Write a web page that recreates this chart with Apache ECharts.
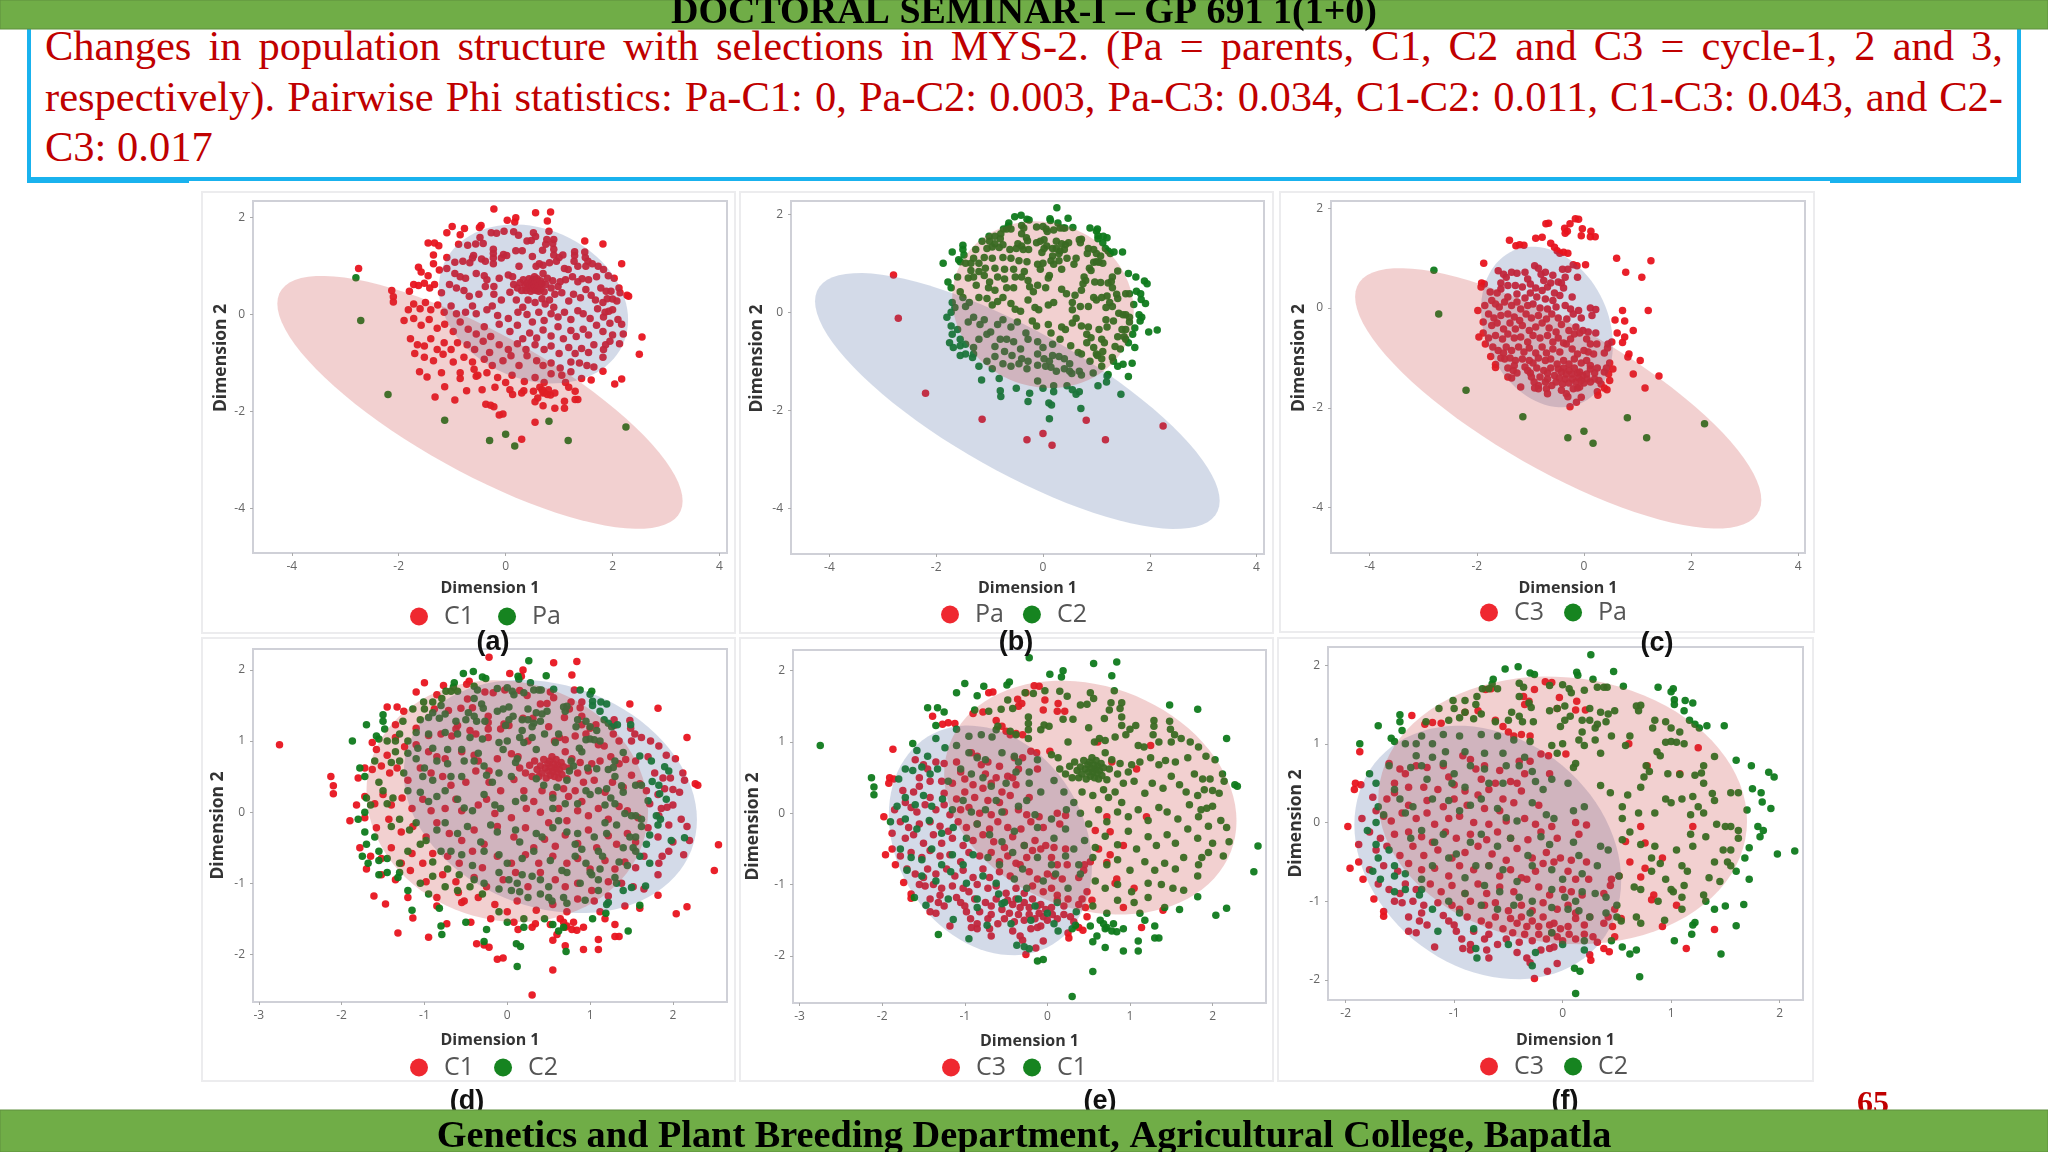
<!DOCTYPE html>
<html><head><meta charset="utf-8">
<script src="https://cdn.jsdelivr.net/npm/echarts@6/dist/echarts.min.js"></script>
<style>
html,body{margin:0;padding:0;background:#fff;width:2048px;height:1152px;overflow:hidden}
#para{position:absolute;left:45px;top:0;width:1958px;font:42.5px "Liberation Serif",serif;color:#c00000}
#para div{position:absolute;left:0;width:1958px;white-space:nowrap;line-height:50px}
#para .j{text-align:justify;text-align-last:justify;white-space:normal}
#chart{position:absolute;left:0;top:0;width:2048px;height:1152px}
</style></head><body>
<div id="para">
<div class="j" style="top:21px">Changes in population structure with selections in MYS-2. (Pa = parents, C1, C2 and C3 = cycle-1, 2 and 3,</div>
<div class="j" style="top:72px">respectively). Pairwise Phi statistics: Pa-C1: 0, Pa-C2: 0.003, Pa-C3: 0.034, C1-C2: 0.011, C1-C3: 0.043, and C2-</div>
<div style="top:122px">C3: 0.017</div>
</div>
<div id="chart"></div>
<script>
// Each population: [Dimension 1, Dimension 2]
const Pa=[[-2.8,0.76],[-2.71,-0.12],[-2.2,-1.65],[-1.14,-2.18],[-0.3,-2.6],[0,-2.47],[0.17,-2.71],[0.81,-2.2],[1.17,-2.6],[2.25,-2.32]];
const C1=[[-2.75,0.95],[-2.13,0.5],[-2.1,0.37],[-2.1,0.26],[-0.22,2.18],[0.56,2.1],[0.84,2.12],[0.03,1.95],[0.19,2],[0.17,1.91],[0.78,1.93],[-1,1.82],[-0.46,1.84],[-0.49,1.8],[-1.1,1.69],[-0.77,1.78],[-0.85,1.65],[0.81,1.72],[-0.27,1.69],[-0.17,1.68],[-0.03,1.72],[0.15,1.71],[0.24,1.64],[0.52,1.69],[0.56,1.61],[1.48,1.52],[1.82,1.46],[0.9,1.55],[0.77,1.55],[0.4,1.52],[0.48,1.53],[-1.45,1.48],[-1.33,1.48],[-1.25,1.42],[-1.35,1.23],[-0.88,1.45],[-0.71,1.43],[-0.56,1.46],[-0.42,1.47],[-0.48,1.59],[-0.23,1.35],[-0.23,1.26],[0.19,1.32],[0.31,1.32],[0.69,1.33],[0.75,1.45],[0.88,1.47],[0.9,1.35],[0.9,1.23],[1.29,1.3],[1.29,1.22],[1.48,1.29],[1.49,1.18],[1.54,1.1],[1.07,1.23],[1,1.18],[2.17,1.05],[-0.04,1.24],[0.02,1.22],[-0.23,1.17],[-0.6,1.22],
[-1.1,1.18],[-0.95,1.08],[-0.8,1.1],[-0.67,1.07],[-0.62,1.17],[-0.45,1.15],[-0.38,1.1],[-0.23,1.05],[-0.08,1.17],[0.25,1],[0.5,1.2],[0.57,1],[0.63,1.05],[0.7,1.02],[0.82,1.07],[0.95,1.1],[1.1,0.95],[1.17,0.93],[1.28,1.1],[1.35,1],[1.5,1],[1.62,1.05],[1.73,1],[1.83,0.93],[1.92,0.8],[2.03,0.75],[-1.63,0.98],[-1.58,0.88],[-1.35,1.05],[-1.45,0.8],[-1.24,0.92],[-1.1,0.95],[-0.95,0.85],[-0.85,0.78],[-0.75,0.75],[-0.55,0.85],[-0.4,0.8],[-0.35,0.72],[-0.22,0.58],[-0.12,0.75],[0.05,0.82],[0.13,0.78],[1.12,0.72],[1.25,0.78],[1.35,0.68],[1.43,0.74],[1.55,0.72],[1.7,0.78],[1.78,0.55],[1.88,0.48],[1.97,0.48],[2.12,0.55],[2.14,0.45],[2.27,0.4],[2.3,0.38],
[0.15,0.62],[0.22,0.55],[0.27,0.66],[0.3,0.5],[0.33,0.72],[0.36,0.6],[0.38,0.5],[0.4,0.65],[0.42,0.55],[0.44,0.74],[0.46,0.62],[0.47,0.48],[0.49,0.68],[0.5,0.58],[0.51,0.72],[0.52,0.52],[0.53,0.63],[0.54,0.78],[0.55,0.58],[0.56,0.68],[0.57,0.5],[0.58,0.62],[0.59,0.74],[0.6,0.56],[0.61,0.66],[0.62,0.48],[0.63,0.6],[0.65,0.7],[0.66,0.53],[0.68,0.64],[0.7,0.85],[0.72,0.47],[0.75,0.62],[0.78,0.75],[0.85,0.55],[0.88,0.7],[0.92,0.42],[0.98,0.58],[1.02,0.68],
[-1.8,0.48],[-1.72,0.62],[-1.63,0.6],[-1.52,0.65],[-1.42,0.55],[-1.33,0.62],[-1.2,0.45],[-1.05,0.62],[-0.92,0.55],[-0.78,0.5],[-0.68,0.38],[-0.5,0.42],[-0.38,0.58],[-0.22,0.42],[-0.08,0.3],[0.08,0.46],[0.2,0.3],[0.32,0.15],[0.42,0.3],[0.55,0.25],[0.68,0.33],[0.74,0.22],[0.82,0.3],[0.9,0.15],[1.05,0.45],[1.18,0.28],[1.27,0.42],[1.4,0.35],[1.5,0.52],[1.6,0.4],[1.68,0.3],[1.82,0.25],[1.9,0.33],[2,0.32],[2.08,0.28],[1.86,0.05],[1.93,0.07],[2,0.1],[2.1,-0.1],[2.17,-0.2],[2.2,-0.4],
[-1.82,0.1],[-1.72,0.22],[-1.6,0.12],[-1.5,0.25],[-1.4,0.1],[-1.27,0.2],[-1.15,0.05],[-1.02,0.18],[-0.92,0.02],[-0.75,0.05],[-0.62,0.18],[-0.55,0.02],[-0.35,0.1],[-0.25,0.18],[-0.15,-0.02],[0.05,-0.08],[0.23,0.05],[0.4,0],[0.5,-0.15],[0.62,0.05],[0.72,-0.12],[0.85,0.02],[0.98,-0.05],[1.1,0.05],[1.22,-0.1],[1.35,0.08],[1.45,0.02],[1.58,-0.08],[1.72,0.12],[1.83,-0.05],[1.95,-0.18],
[-1.9,-0.12],[-1.72,-0.08],[-1.58,-0.22],[-1.43,-0.1],[-1.28,-0.28],[-1.14,-0.2],[-0.98,-0.35],[-0.85,-0.15],[-0.7,-0.3],[-0.55,-0.4],[-0.4,-0.25],[-0.28,-0.45],[-0.12,-0.2],[0.08,-0.35],[0.22,-0.22],[0.32,-0.5],[0.45,-0.38],[0.58,-0.48],[0.7,-0.32],[0.85,-0.44],[0.98,-0.25],[1.08,-0.5],[1.22,-0.33],[1.32,-0.45],[1.45,-0.3],[1.55,-0.42],[1.7,-0.22],[1.82,-0.35],[2,-0.42],[2.13,-0.6],[2.55,-0.46],[2.5,-0.82],
[-1.78,-0.5],[-1.65,-0.62],[-1.52,-0.65],[-1.4,-0.5],[-1.28,-0.72],[-1.15,-0.58],[-1.02,-0.72],[-0.9,-0.58],[-0.72,-0.62],[-0.58,-0.72],[-0.42,-0.55],[-0.3,-0.78],[-0.12,-0.62],[0.05,-0.72],[0.22,-0.6],[0.38,-0.72],[0.55,-0.62],[0.72,-0.72],[0.85,-0.65],[1,-0.8],[1.18,-0.68],[1.3,-0.8],[1.42,-0.7],[1.55,-0.78],[1.65,-0.62],[1.83,-0.72],[1.87,-0.62],[1.82,-0.88],[1.95,-0.55],
[-1.7,-0.8],[-1.52,-0.88],[-1.35,-0.95],[-1.17,-0.82],[-0.98,-0.98],[-0.78,-0.88],[-0.62,-0.98],[-0.4,-0.92],[-0.25,-1.05],[-0.05,-0.95],[0.1,-0.85],[0.25,-1.05],[0.4,-0.85],[0.58,-0.95],[0.7,-1.05],[0.85,-1],[1.02,-1.1],[1.22,-0.98],[1.38,-1],[1.52,-1.05],[1.65,-1.08],[1.82,-1.17],[2.04,-1.43],[2.17,-1.33],
[-1.32,-1.7],[-1.2,-1.2],[-0.85,-1.2],[-0.52,-1.25],[-0.35,-1.2],[-0.15,-1.3],[0,-1.4],[0.12,-1.25],[0.35,-1.38],[0.55,-1.3],[0.72,-1.4],[0.85,-1.22],[1.05,-1.25],[1.12,-1.4],[1.22,-1.18],[1.42,-1.32],[1.6,-1.35],[-0.2,-1.5],[0.08,-1.55],[0.3,-1.62],[0.52,-1.58],[0.7,-1.62],[0.8,-1.55],[0.92,-1.62],[1.18,-1.5],[1.3,-1.58],[1.35,-1.75],[-0.28,-1.87],[-0.22,-1.9],[-0.05,-2.05],[0.55,-1.8],[0.7,-1.88],[0.92,-1.93],[1.1,-1.79],[1.1,-1.93],[1.3,-1.75],[-0.12,-2.07],[0.55,-2.22],[0.3,-2.57],
[-1.61,-1.18],[-1.47,-1.29],[-1.14,-1.49],[-0.95,-1.76],[-0.85,-1.32],[-0.73,-1.57],[-0.59,-1.13],[-0.55,-1.27],[-0.44,-1.55],[-0.37,-1.85],[0.13,-1.65],[0.34,-1.57],[0.64,-1.5],[0.68,-1.55],[0.72,-1.6],[0.78,-1.65],[0.84,-1.66],[0.6,-1.72]];
const C2=[[0.26,2.13],[-0.41,1.98],[-0.53,1.95],[-0.3,1.9],[-0.26,1.88],[0.13,1.91],[0.14,1.87],[0.47,1.92],[-0.64,1.82],[-0.65,1.76],[0.28,1.82],[0.32,1.72],[0.38,1.72],[0.41,1.72],[0.56,1.73],[0.88,1.72],[1,1.66],[1.02,1.7],[-0.4,1.77],[-0.36,1.72],[-0.12,1.74],[0,1.75],[0.06,1.7],[0.2,1.68],[-0.74,1.7],[-0.68,1.7],[-0.6,1.7],[-0.79,1.6],[-0.4,1.6],[-0.31,1.52],[0.08,1.65],[1.03,1.56],[1.13,1.55],[1.2,1.52],[-1.14,1.45],[-1.01,1.55],[-0.9,1.55],[-0.8,1.5],[-1.0,1.45],[-0.9,1.4],[-0.75,1.38],[-0.47,1.4],[-0.4,1.35],[-0.29,1.46],[-0.12,1.42],[-0.05,1.45],[0.02,1.48],[0.07,1.35],[0.25,1.45],[0.35,1.4],[0.42,1.38],[0.48,1.42],[0.7,1.42],[0.68,1.48],[0.72,1.49],[1.03,1.5],[1.12,1.42],[-1.5,1.37],[-1.5,1.28],[-1.48,1.17],[-1.7,1.23],[-1.26,1.28],[-1.05,1.3],[-0.95,1.33],[-0.82,1.32],[-0.62,1.28],[-0.5,1.3],[-0.37,1.28],[-0.27,1.28],[0.02,1.3],[0.18,1.3],[0.25,1.3],[0.32,1.25],[0.4,1.28],[0.85,1.3],[0.83,1.2],[0.95,1.28],[1.0,1.2],[1.08,1.15],[1.17,1.3],[1.22,1.25],[1.26,1.2],[1.33,1.23],[1.49,1.23],[-0.02,1.22],[0.3,1.2],[0.18,1.15],
[-1.58,1.07],[-1.55,1.03],[-1.87,1],[-1.45,1],[-1.35,1],[-1.3,1.1],[-1.2,1],[-1.1,1.12],[-0.95,1.1],[-0.75,1.12],[-0.6,1.1],[-0.45,1.05],[-0.3,1.03],[-0.1,0.98],[0,1],[0.15,1.05],[0.2,0.98],[0.3,1.05],[0.45,1.1],[0.62,1.1],[0.58,0.98],[0.95,1.02],[1.0,1.03],[1.05,1.02],[1.12,1.0],[0.87,0.9],[0.9,0.85],[1.4,0.84],[1.6,0.79],[1.74,0.72],[1.9,0.64],[1.95,0.58],[1.3,0.72],[1.28,0.63],[1.3,0.5],[1.22,0.6],[1.08,0.61],[0.77,0.72],[0.8,0.65],[0.75,0.58],[0.97,0.62],[-1.78,0.62],[-1.72,0.5],[-1.35,0.85],[-1.2,0.83],[-1.08,0.9],[-0.9,0.9],[-0.72,0.88],[-0.55,0.88],[-0.35,0.83],[-0.05,0.88],[0.12,0.75],[0.1,0.7],[0.35,0.88],
[-1.55,0.42],[-1.6,0.72],[-1.4,0.7],[-1.3,0.72],[-1.1,0.75],[-1.0,0.62],[-0.85,0.72],[-0.72,0.68],[-0.52,0.72],[-0.4,0.72],[-0.28,0.65],[-0.1,0.55],[-1.25,0.55],[-1.02,0.5],[-0.9,0.45],[-0.68,0.5],[-0.55,0.5],[-0.25,0.52],[-0.18,0.42],[0.05,0.5],[0.35,0.47],[0.44,0.38],[0.6,0.35],[0.72,0.45],[0.95,0.3],[1.0,0.25],[1.2,0.33],[1.25,0.2],[1.38,0.37],[1.4,0.28],[1.55,0.38],[1.62,0.38],[1.75,0.43],[1.83,0.38],[1.84,0.26],[1.7,0.16],[1.8,-0.05],[1.85,-0.1],[1.82,-0.18],[1.92,0.18],[1.98,-0.4],[2.14,-0.36],
[-1.7,0.2],[-1.65,0.1],[-1.72,0],[-1.5,0.3],[-1.45,0.12],[-1.38,0.2],[-1.2,0.3],[-1.05,0.28],[-0.95,0.15],[-0.85,0.22],[-0.75,0.3],[-0.6,0.18],[-0.52,0.06],[-0.42,0.02],[-0.28,0.25],[-0.15,0.1],[-0.08,0.05],[0.1,0.15],[0.2,0.2],[0.55,0.2],[0.55,0.05],[0.7,0.12],[0.85,0.12],[1.1,0.3],[1.18,0.1],[1.3,0.12],[1.42,-0.02],[1.5,-0.05],[1.55,-0.05],[1.62,-0.1],[1.62,-0.2],[1.55,-0.35],
[-1.8,-0.1],[-1.72,-0.28],[-1.7,-0.45],[-1.6,-0.35],[-1.55,-0.55],[-1.4,-0.2],[-1.3,-0.1],[-1.18,-0.25],[-1.1,-0.15],[-0.98,-0.4],[-0.85,-0.25],[-0.75,-0.15],[-0.6,-0.3],[-0.48,-0.2],[-0.32,-0.42],[-0.2,-0.18],[-0.12,-0.28],[0.1,-0.25],[0.15,-0.42],[0.35,-0.3],[0.42,-0.35],[0.55,-0.22],[0.62,-0.12],[0.72,-0.28],[0.85,-0.3],[1.05,-0.35],[1.18,-0.15],[1.2,-0.3],[1.32,-0.18],[1.4,-0.5],[1.48,-0.35],[1.52,-0.5],[1.72,-0.32],[1.68,-0.45],
[-1.75,-0.62],[-1.68,-0.72],[-1.55,-0.68],[-1.45,-0.65],[-1.3,-0.72],[-1.2,-0.55],[-1.05,-0.45],[-0.9,-0.7],[-0.8,-0.55],[-0.68,-0.55],[-0.55,-0.6],[-0.42,-0.75],[-0.28,-0.55],[-0.1,-0.6],[0,-0.72],[0.18,-0.65],[0.32,-0.55],[0.52,-0.68],[0.82,-0.45],[0.9,-0.52],[1.1,-0.55],[1.15,-0.62],[1.12,-0.8],[1.02,-0.88],[1.35,-0.7],[1.45,-0.75],[1.55,-0.55],[1.6,-0.62],[1.72,-0.72],[0.82,-0.62],[0.95,-0.72],
[-1.55,-0.88],[-1.45,-0.85],[-1.32,-0.92],[-1.3,-0.85],[-1.05,-1],[-0.9,-0.9],[-0.72,-0.8],[-0.58,-0.88],[-0.4,-0.95],[-0.28,-1],[-0.1,-0.85],[0.02,-0.95],[0.12,-1],[0.18,-0.88],[0.3,-0.9],[0.4,-0.95],[0.5,-1.05],[0.66,-0.82],[0.72,-0.85],[1,-0.85],[0.88,-1],[1.1,-0.95],[1.3,-0.92],[1.32,-1],[1.4,-1.1],[1.5,-1.06],[1.67,-1.04],
[-1.2,-1.1],[-1.15,-1.38],[-0.95,-1.15],[-0.82,-1.35],[-0.75,-1.05],[-0.6,-1.1],[-0.45,-1.05],[-0.3,-1.15],[-0.1,-1.08],[0.05,-1.1],[0.15,-1.12],[0.25,-1.2],[0.4,-1.15],[0.5,-1.2],[0.54,-1.25],[0.68,-1.2],[0.72,-1.28],[0.94,-1.24],[1.1,-1.1],[1.2,-1.3],[1.22,-1.27],[1.6,-1.31],
[-0.8,-1.6],[-0.79,-1.72],[-0.5,-1.55],[-0.25,-1.65],[-0.1,-1.4],[0,-1.55],[0.2,-1.5],[0.2,-1.62],[0.45,-1.5],[0.55,-1.58],[0.62,-1.67],[0.68,-1.62],[1.03,-1.5],[1.19,-1.42],[1.46,-1.67],[-0.28,-1.82],[0.11,-1.85],[0.16,-1.89],[0.71,-1.96],[0.12,-2.17]];
const C3=[[-0.16,1.79],[-0.1,1.78],[-0.26,1.69],[-0.31,1.54],[-0.35,1.5],[-0.71,1.69],[-0.66,1.7],[-1.39,1.36],[-0.03,1.59],[0.13,1.54],[0.12,1.43],[0.21,1.43],[-0.36,1.6],[-0.05,1.45],[-0.62,1.3],[-0.55,1.22],[-0.5,1.15],[-0.45,1.1],[-0.38,1.12],[-0.3,1.1],[-1.27,1.25],[-1.2,1.27],[-1.12,1.26],[-0.9,1.4],[-0.78,1.42],[1.25,0.95],[0.61,1],[0.03,0.87],[-1.87,0.9],[-1.91,0.5],[-1.86,0.48],[-1.92,0.42],[-1.98,-0.05],[-1.96,-0.58],[-1.84,-0.72],[-1.74,-0.97],[-1.65,-1.13],[-1.65,-1.19],[-0.2,0.87],[-0.13,0.85],[-0.35,0.62],[-0.4,0.78],[0.78,0.72],[1.08,0.62],
[-1.6,0.75],[-1.5,0.68],[-1.45,0.62],[-1.35,0.72],[-1.25,0.7],[-1.1,0.72],[-1.05,0.58],[-0.92,0.85],[-0.85,0.8],[-0.8,0.68],[-0.72,0.72],[-0.58,0.66],[-0.3,0.78],[-0.12,0.62],[-0.75,0.55],[-0.62,0.5],[-0.48,0.52],[-0.42,0.5],[-1.55,0.5],[-1.42,0.45],[-1.28,0.45],[-1.15,0.42],[-1,0.48],[-0.9,0.4],[-0.78,0.35],[-0.68,0.42],[-0.55,0.3],[-0.38,0.4],[-1.75,0.32],[-1.62,0.3],[-1.55,0.38],[-1.42,0.22],[-1.25,0.28],[-1.1,0.2],[-1,0.3],[-0.88,0.22],[-0.72,0.18],[-0.58,0.15],[-0.45,0.25],[-0.22,0.22],[-0.1,-0.05],[0.12,0],[0.22,-0.03],[0.58,-0.24],[0.72,-0.05],[1.2,-0.05],[0.76,-0.26],
[-1.85,0.05],[-1.72,0.15],[-1.65,0.08],[-1.58,0.02],[-1.48,0.12],[-1.35,0.05],[-1.25,0.12],[-1.18,-0.02],[-1.05,0.05],[-0.95,0.08],[-0.82,0],[-0.68,-0.02],[-0.52,0.02],[-0.35,0.05],[-0.25,-0.02],[-1.78,-0.12],[-1.68,-0.2],[-1.55,-0.15],[-1.42,-0.12],[-1.3,-0.18],[-1.2,-0.25],[-1.08,-0.12],[-0.98,-0.2],[-0.85,-0.15],[-0.7,-0.22],[-0.6,-0.12],[-0.48,-0.2],[-0.32,-0.22],[-0.2,-0.12],[-0.05,-0.2],[0.15,-0.15],
[-1.88,-0.28],[-1.72,-0.35],[-1.62,-0.3],[-1.5,-0.42],[-1.38,-0.3],[-1.28,-0.42],[-1.15,-0.35],[-1.02,-0.45],[-0.9,-0.38],[-0.78,-0.3],[-0.65,-0.4],[-0.52,-0.48],[-0.42,-0.33],[-0.28,-0.45],[-0.15,-0.38],[-0.02,-0.45],[0.08,-0.48],[0.22,-0.5],[0.62,-0.5],[0.92,-0.45],[0.72,-0.69],[0.76,-0.58],
[-1.88,-0.5],[-1.78,-0.6],[-1.65,-0.55],[-1.52,-0.62],[-1.42,-0.52],[-1.3,-0.6],[-1.18,-0.58],[-1.05,-0.68],[-0.95,-0.55],[-0.82,-0.6],[-0.68,-0.55],[-0.58,-0.68],[-0.48,-0.6],[-0.38,-0.7],[-0.25,-0.62],[-0.18,-0.52],[-0.08,-0.5],[0.05,-0.62],[0.12,-0.72],[0.24,-0.72],[0.45,-0.72],[0.52,-0.68],
[-1.7,-0.78],[-1.6,-0.85],[-1.5,-0.9],[-1.45,-0.78],[-1.35,-0.85],[-1.22,-0.78],[-1.12,-0.88],[-1.02,-0.8],[-0.9,-0.9],[-0.78,-0.78],[-0.7,-0.9],[-0.58,-0.82],[-0.45,-0.88],[-0.33,-0.72],[-0.22,-0.82],[-0.12,-0.92],[0,-0.85],[0.08,-0.88],[0.18,-0.92],[0.38,-0.9],[0.44,-0.8],[0.84,-0.92],[0.82,-0.98],[1.05,-1.05],[0.54,-1.22],
[-1.55,-1],[-1.48,-1.02],[-1.38,-1],[-1.28,-1.05],[-1.15,-1.02],[-1.02,-1.05],[-0.95,-1.1],[-0.85,-1],[-0.72,-1.05],[-0.62,-1.02],[-0.5,-1.12],[-0.38,-1.05],[-0.28,-1.12],[-0.18,-1.02],[-0.05,-1.1],[0.05,-1.05],[0.12,-1.15],[0.25,-1.2],[0.42,-1.2],[0.48,-1.1],
[-1.42,-1.2],[-1.32,-1.25],[-1.3,-1.15],[-1.25,-1.3],[-1.1,-1.18],[-1.05,-1.25],[-1,-1.3],[-0.88,-1.2],[-0.82,-1.38],[-0.75,-1.25],[-0.68,-1.3],[-0.62,-1.2],[-0.55,-1.35],[-0.48,-1.22],[-0.42,-1.28],[-0.38,-1.2],[-0.33,-1.32],[-0.28,-1.25],[-0.22,-1.32],[-0.18,-1.2],[-0.12,-1.3],[-0.08,-1.28],[-0.02,-1.35],[0.05,-1.32],[0.12,-1.22],[0.2,-1.3],[0.38,-1.28],[0.46,-1.32],[0.92,-1.32],
[-1.42,-1.38],[-1.35,-1.4],[-1.18,-1.58],[-0.98,-1.38],[-0.93,-1.48],[-0.85,-1.55],[-0.72,-1.48],[-0.68,-1.42],[-0.6,-1.55],[-0.52,-1.48],[-0.46,-1.4],[-0.4,-1.52],[-0.35,-1.42],[-0.28,-1.5],[-0.22,-1.42],[-0.15,-1.48],[-0.1,-1.4],[-0.05,-1.45],[0,-1.5],[0.06,-1.42],[0.12,-1.48],[0.2,-1.42],[0.28,-1.45],[0.32,-1.52],[0.48,-1.45],[1.4,-1.36],
[-0.92,-1.6],[-0.85,-1.62],[-0.7,-1.62],[-0.68,-1.72],[-0.42,-1.65],[-0.33,-1.72],[-0.3,-1.78],[-0.26,-1.98],[-0.14,-1.89],[-0.05,-1.79],[-0.2,-1.62],[-0.12,-1.6],[-0.08,-1.58],[0.25,-1.68],[0.26,-1.75],[0.38,-1.6],[0.43,-1.64],[1.14,-1.6]];
const xTicksWide=[-4,-2,0,2,4], yTicksWide=[-4,-2,0,2];
const xTicksNarrow=[-3,-2,-1,0,1,2], yTicksNarrow=[-2,-1,0,1,2];
const xTicksF=[-2,-1,0,1,2];
// Confidence ellipses: [centre x, centre y, half width, half height, tilt]
const ellPa=[-0.48,-1.81,3.79,2.61,-0.78];
const ellC1=[0.52,0.22,1.77,1.64,-0.2];
const ellC2=[0,0.155,1.7,1.7,-0.08];
const ellC3=[-0.69,-0.38,1.23,1.61,-0.22];

const data={Pa,C1,C2,C3}, ell={Pa:ellPa,C1:ellC1,C2:ellC2,C3:ellC3};
const RED='#e8141f', GREEN='#0f7a1c';
const panels=[
 {a:'C1',b:'Pa',cap:'(a)',capX:493,capY:643,L:253,T:201,R:727,B:553,x:[-4.725,4.14],y:[-4.92,2.345],xt:xTicksWide,yt:yTicksWide,lx:405,ly:599,gap:24,nm:38,gx:27,gy:23},
 {a:'Pa',b:'C2',cap:'(b)',capX:1016,capY:643,L:791,T:201,R:1264,B:554,x:[-4.72,4.14],y:[-4.93,2.27],xt:xTicksWide,yt:yTicksWide,lx:936,ly:597,gap:19,nm:38,gx:26,gy:25},
 {a:'C3',b:'Pa',cap:'(c)',capX:1657,capY:644,L:1331,T:201,R:1805,B:553,x:[-4.72,4.125],y:[-4.91,2.146],xt:xTicksWide,yt:yTicksWide,lx:1475,ly:595,gap:20,nm:38,gx:27,gy:19},
 {a:'C1',b:'C2',cap:'(d)',capX:467,capY:1102,L:253,T:649,R:727,B:1002,x:[-3.07,2.653],y:[-2.67,2.295],xt:xTicksNarrow,yt:yTicksNarrow,lx:405,ly:1050,gap:20,nm:0,gx:30,gy:25.5},
 {a:'C3',b:'C1',cap:'(e)',capX:1100,capY:1102,L:793,T:650,R:1266,B:1003,x:[-3.08,2.647],y:[-2.66,2.29],xt:xTicksNarrow,yt:yTicksNarrow,lx:937,ly:1050,gap:17,nm:0,gx:30,gy:31},
 {a:'C3',b:'C2',cap:'(f)',capX:1565,capY:1102,L:1328,T:647,R:1803,B:1000,x:[-2.163,2.216],y:[-2.254,2.23],xt:xTicksF,yt:yTicksNarrow,lx:1475,ly:1049,gap:20,nm:0,gx:32,gy:18}
];
const frames=[[202,192,533,441],[740,192,533,441],[1280,192,534,440],[202,638,533,443],[740,638,533,443],[1278,638,535,443]];

function ellipseSeries(name,gi,color){
 return {type:'custom',name:name+' ellipse',xAxisIndex:gi,yAxisIndex:gi,z:4,silent:true,clip:false,
  data:[ell[name]],encode:{x:0,y:1},
  renderItem(p,api){
   const cx=api.value(0),cy=api.value(1),A=api.value(2),B=api.value(3),r=api.value(4),pts=[];
   for(let i=0;i<90;i++){const t=i/90*2*Math.PI;
    pts.push(api.coord([cx+A*Math.cos(t),cy+B*(r*Math.cos(t)+Math.sqrt(1-r*r)*Math.sin(t))]));}
   return {type:'polygon',shape:{points:pts},style:{fill:color}};
  }};
}
const grid=[],xAxis=[],yAxis=[],series=[],legend=[],graphic=[];
panels.forEach((p,i)=>{
 grid.push({left:p.L,top:p.T,width:p.R-p.L,height:p.B-p.T,show:true,borderColor:'#cfd0d7',borderWidth:2,backgroundColor:'transparent'});
 const lab={color:'#666',fontSize:12,fontFamily:'Open Sans',margin:8};
 const nm={color:'#333',fontSize:16,fontWeight:'bold',fontFamily:'Open Sans'};
 xAxis.push({type:'value',gridIndex:i,min:p.x[0],max:p.x[1],splitLine:{show:false},axisLine:{show:false,onZero:false},
  axisTick:{show:true,length:3,lineStyle:{color:'#aaa'},customValues:p.xt},axisLabel:Object.assign({customValues:p.xt},lab),
  name:'Dimension 1',nameLocation:'middle',nameGap:p.gx,nameTextStyle:nm});
 yAxis.push({type:'value',gridIndex:i,min:p.y[0],max:p.y[1],splitLine:{show:false},axisLine:{show:false,onZero:false},
  axisTick:{show:true,length:3,lineStyle:{color:'#aaa'},customValues:p.yt},axisLabel:Object.assign({customValues:p.yt},lab),
  name:'Dimension 2',nameLocation:'middle',nameGap:p.gy,nameTextStyle:Object.assign({},nm,{fontSize:17.5,padding:[0,0,0,p.nm]})});
 [[p.a,RED],[p.b,GREEN]].forEach(([n,c])=>{
  series.push({type:'scatter',name:n,xAxisIndex:i,yAxisIndex:i,data:data[n],symbolSize:7.5,z:2,silent:true,itemStyle:{color:c,opacity:0.95}});
 });
 series.push(ellipseSeries(p.a,i,'rgba(70,100,160,0.24)'));
 series.push(ellipseSeries(p.b,i,'rgba(200,60,60,0.24)'));
 legend.push({left:p.lx,top:p.ly,orient:'horizontal',icon:'circle',itemWidth:18,itemHeight:18,itemGap:p.gap,selectedMode:false,
  textStyle:{fontFamily:'Open Sans',fontSize:25,color:'#555',padding:[0,0,0,11]},
  data:[{name:p.a,itemStyle:{color:'#ee1c25'}},{name:p.b,itemStyle:{color:'#0a7d14'}}]});
 graphic.push({type:'text',z:20,x:p.capX,y:p.capY,style:{text:p.cap,fill:'#111',font:'bold 27px "Liberation Sans"',align:'center',verticalAlign:'middle'}});
});
frames.forEach(f=>graphic.push({type:'rect',z:0,shape:{x:f[0],y:f[1],width:f[2],height:f[3]},style:{fill:'none',stroke:'#ececee',lineWidth:2}}));
// blue text box
graphic.push({type:'rect',z:1,shape:{x:29,y:20,width:1990,height:159},style:{fill:'none',stroke:'#19b2ee',lineWidth:4}});
graphic.push({type:'rect',z:1,shape:{x:27,y:178,width:162,height:5},style:{fill:'#19b2ee'}});
graphic.push({type:'rect',z:1,shape:{x:1830,y:178,width:191,height:5},style:{fill:'#19b2ee'}});
// slide bars
graphic.push({type:'rect',z:30,shape:{x:0,y:0,width:2048,height:29},style:{fill:'#70ad47',stroke:'#5f8f3e',lineWidth:1}});
graphic.push({type:'text',z:31,x:1024,y:32,style:{text:'DOCTORAL SEMINAR-I – GP 691 1(1+0)',fill:'#000',font:'bold 38px "Liberation Serif"',align:'center',verticalAlign:'bottom'}});
graphic.push({type:'text',z:25,x:1873,y:1121,style:{text:'65',fill:'#c00000',font:'bold 32px "Liberation Serif"',align:'center',verticalAlign:'bottom'}});
graphic.push({type:'rect',z:30,shape:{x:0,y:1110,width:2048,height:42},style:{fill:'#70ad47',stroke:'#5f8f3e',lineWidth:1}});
graphic.push({type:'text',z:31,x:1024,y:1156.5,style:{text:'Genetics and Plant Breeding Department, Agricultural College, Bapatla',fill:'#000',font:'bold 38.3px "Liberation Serif"',align:'center',verticalAlign:'bottom'}});
const chart=echarts.init(document.getElementById('chart'),null,{width:2048,height:1152});
chart.setOption({animation:false,backgroundColor:'transparent',grid,xAxis,yAxis,series,legend,graphic});
</script>
</body></html>
